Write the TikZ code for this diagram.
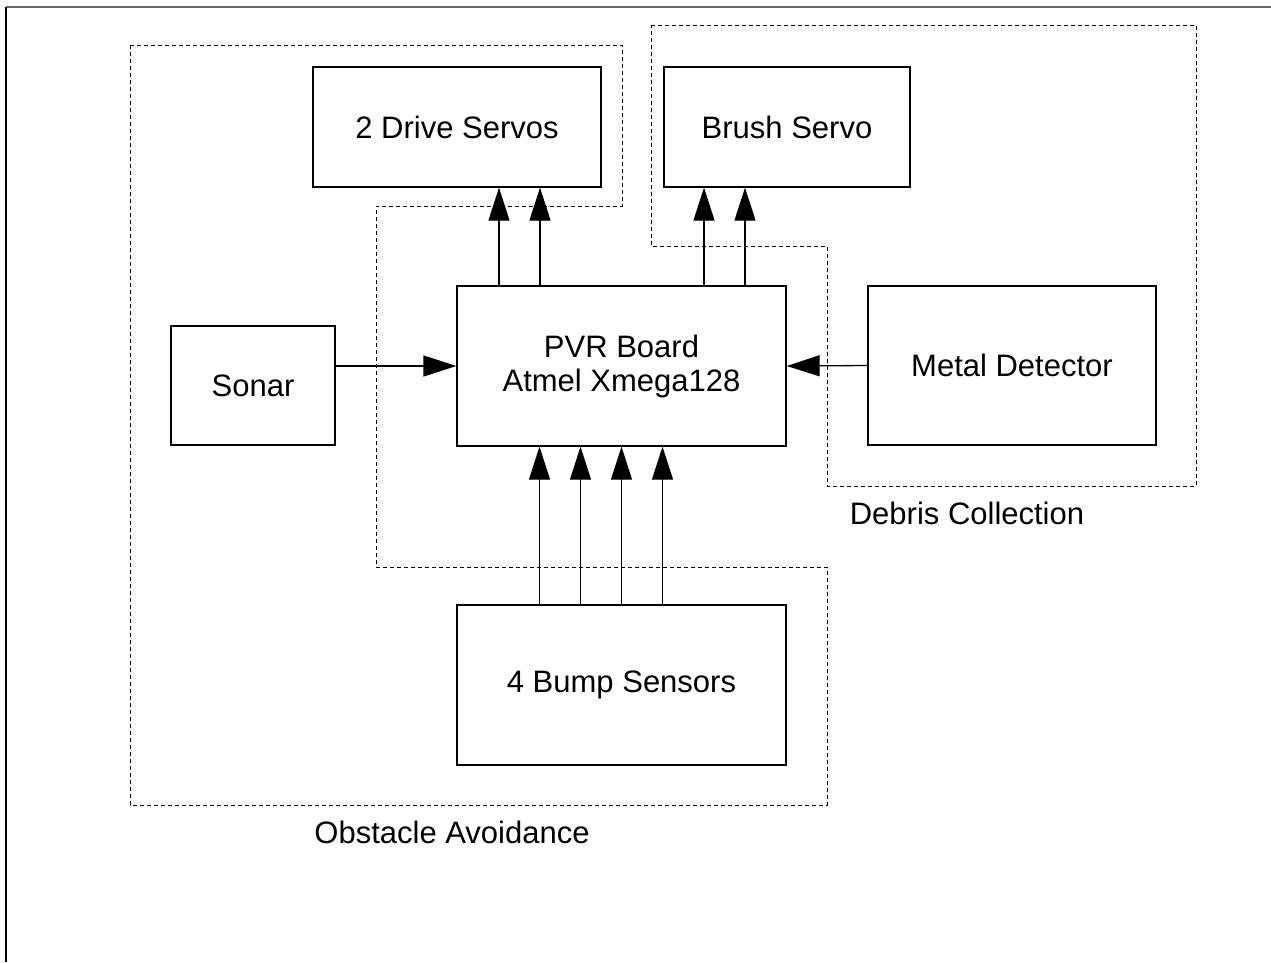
\documentclass[tikz,border=0pt]{standalone}
\usepackage{fontspec}
\setmainfont{Liberation Sans}
\usetikzlibrary{arrows.meta}
\usetikzlibrary{positioning}

\begin{document}
\begin{tikzpicture}
    [
    x=1pt,y=-1pt,
    font=\fontsize{31}{34}\selectfont,
    block/.style={rectangle,draw,line width=1.3pt,inner sep=0pt,align=center},
    region/.style={draw,dash pattern=on 4pt off 3pt,line width=1pt},
    arrow/.style={line width=1.3pt,-{Triangle[length=33pt,width=21pt]}},
    ]
    \useasboundingbox (0,0) rectangle (1271,962);
    \draw [line width=1.5pt,black!60] (6,7) -- (1271,7);
    \draw [line width=1.5pt] (6,7) -- (6,962);

    \node (drive) at (457,127) [block,minimum width=288,minimum height=120] {2 Drive Servos};
    \node (brush) at (787,127) [block,minimum width=246,minimum height=120] {Brush Servo};
    \node (pvr) at (621.5,366) [block,minimum width=329,minimum height=160] {PVR Board\\Atmel Xmega128};
    \node (sonar) at (253,385.5) [block,minimum width=164,minimum height=119] {Sonar};
    \node (metal) at (1012,365.5) [block,minimum width=288,minimum height=159] {Metal Detector};
    \node (bump) at (621.5,685) [block,minimum width=329,minimum height=160] {4 Bump Sensors};

    % dashed groups
    \draw [region] (130,45) -- (622,45) -- (622,206) -- (376,206) -- (376,567)
        -- (827,567) -- (827,805) -- (130,805) -- cycle;
    \draw [region] (651,25) -- (1196,25) -- (1196,486) -- (827,486) -- (827,246)
        -- (651,246) -- cycle;
    \node (obstacle) at (452,832) {Obstacle Avoidance};
    \node (debris) at (967,513) {Debris Collection};

    \foreach \dx in {42,83}
        \draw [arrow] ([xshift=\dx pt]drive.south |- pvr.north) to ([xshift=\dx pt]drive.south);
    \foreach \dx in {-83,-42}
        \draw [arrow] ([xshift=\dx pt]brush.south |- pvr.north) to ([xshift=\dx pt]brush.south);
    \foreach \dx in {-82,-41,0,41}
        \draw [arrow] ([xshift=\dx pt]bump.north) to ([xshift=\dx pt]pvr.south);
    \draw [arrow] (sonar.east |- pvr.west) to (pvr.west);
    \draw [arrow] (metal.west) to (pvr.east);
\end{tikzpicture}
\end{document}
